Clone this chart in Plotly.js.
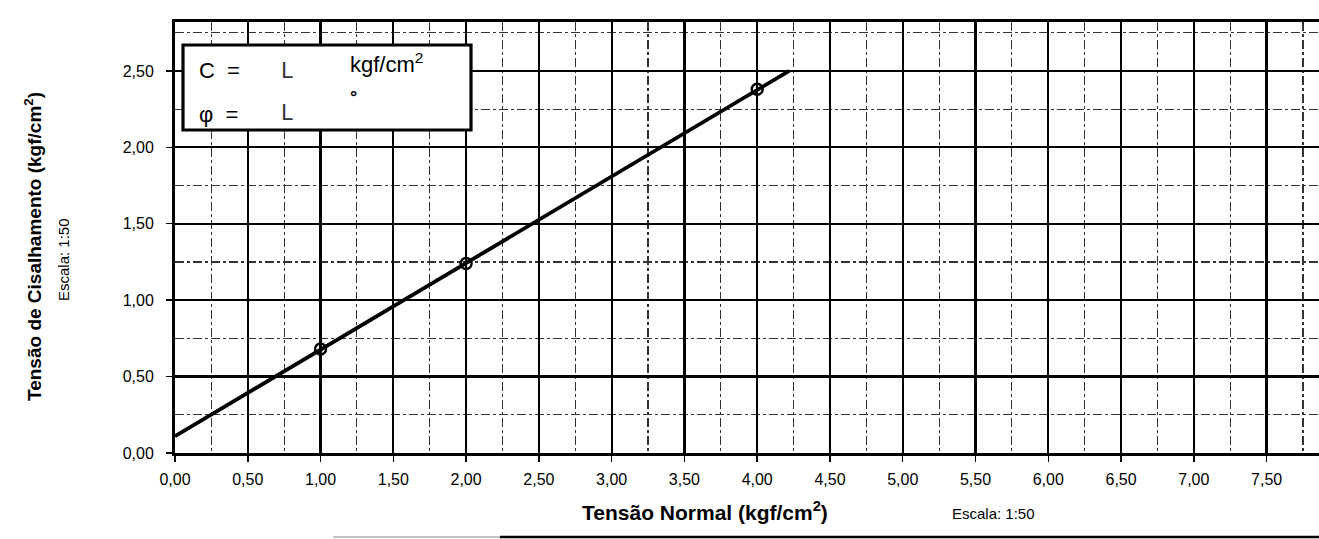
<!DOCTYPE html>
<html>
<head>
<meta charset="utf-8">
<script src="https://cdn.plot.ly/plotly-3.0.1.min.js"></script>
<style>html,body{margin:0;padding:0;background:#fff;}#chart{width:1319px;height:539px;}</style>
</head>
<body>
<div id="chart"></div>
<script>
// ---- data ----
const normalStress = [1.00, 2.00, 4.00];          // Tensão Normal (kgf/cm²)
const shearStress  = [0.68, 1.24, 2.38];          // Tensão de Cisalhamento (kgf/cm²)
const fitX = [0.00, 4.22];                        // envoltória (linha ajustada)
const fitY = [0.11, 2.50];
const xTickVals = [0,0.5,1,1.5,2,2.5,3,3.5,4,4.5,5,5.5,6,6.5,7,7.5];
const yTickVals = [0,0.5,1,1.5,2,2.5];
const xTitle = 'Tensão Normal (kgf/cm<sup>2</sup>)';
const yTitle = 'Tensão de Cisalhamento (kgf/cm<sup>2</sup>)';
const scaleLabel = 'Escala: 1:50';

const FONT = 'Liberation Sans, Arial, sans-serif';
// pixel helpers for the plot area (l=175, t=22, w=1144, h=431)
const PL = 175, PT = 22, PW = 1144, PH = 431;
const px = X => (X - PL) / PW;
const py = Y => (PT + PH - Y) / PH;

const traces = [
  {x: fitX, y: fitY, mode: 'lines', line: {color: '#000', width: 3.8}, hoverinfo: 'skip'},
  {x: normalStress, y: shearStress, mode: 'markers',
   marker: {symbol: 'circle-open', size: 11, color: '#000', line: {width: 2.4, color: '#000'}}}
];

const axisCommon = {
  showline: true, linecolor: '#000', linewidth: 3, mirror: true,
  ticks: 'outside', ticklen: 6, tickwidth: 1.5, tickcolor: '#000',
  showgrid: true, gridcolor: '#000', gridwidth: 2.2,
  zeroline: false, tickformat: '.2f',
  tickfont: {family: FONT, size: 16, color: '#000'},
  minor: {dtick: 0.25, showgrid: true, gridcolor: '#333', gridwidth: 1.1, griddash: 'dashdot', ticks: ''}
};

const layout = {
  width: 1319, height: 539,
  margin: {l: PL, r: 0, t: PT, b: 539 - PT - PH},
  paper_bgcolor: '#fff', plot_bgcolor: '#fff',
  separators: ',.',
  showlegend: false,
  font: {family: FONT, color: '#000'},
  xaxis: Object.assign({}, axisCommon, {range: [0, 7.86], tickvals: xTickVals, ticklabelstandoff: 4}),
  yaxis: Object.assign({}, axisCommon, {range: [0, 2.82], tickvals: yTickVals, ticklabelstandoff: 9}),
  shapes: [
    // C / phi box
    {type: 'rect', xref: 'paper', yref: 'paper', x0: px(183), x1: px(471), y0: py(45), y1: py(130),
     fillcolor: '#fff', line: {color: '#000', width: 3.2}, layer: 'above'},
    // underline under x title
    {type: 'line', xref: 'paper', yref: 'paper', x0: px(500), x1: 1, y0: py(537), y1: py(537),
     line: {color: '#000', width: 2.5}},
    {type: 'line', xref: 'paper', yref: 'paper', x0: px(333), x1: px(500), y0: py(537), y1: py(537),
     line: {color: '#888', width: 1}}
  ],
  annotations: [
    {xref: 'paper', yref: 'paper', x: px(197), y: py(70), xanchor: 'left', yanchor: 'middle', showarrow: false,
     text: 'C&nbsp;&nbsp;=', font: {family: FONT, size: 22}},
    {xref: 'paper', yref: 'paper', x: px(279), y: py(71), xanchor: 'left', yanchor: 'middle', showarrow: false,
     text: 'L', font: {family: 'DejaVu Sans ExtraLight, DejaVu Sans, sans-serif', size: 21, color: '#333'}},
    {xref: 'paper', yref: 'paper', x: px(348), y: py(63), xanchor: 'left', yanchor: 'middle', showarrow: false,
     text: 'kgf/cm<sup>2</sup>', font: {family: FONT, size: 22}},
    {xref: 'paper', yref: 'paper', x: px(197), y: py(114), xanchor: 'left', yanchor: 'middle', showarrow: false,
     text: 'φ&nbsp;&nbsp;=', font: {family: FONT, size: 22}},
    {xref: 'paper', yref: 'paper', x: px(279), y: py(113), xanchor: 'left', yanchor: 'middle', showarrow: false,
     text: 'L', font: {family: 'DejaVu Sans ExtraLight, DejaVu Sans, sans-serif', size: 21, color: '#333'}},
    {xref: 'paper', yref: 'paper', x: px(353), y: py(97), xanchor: 'center', yanchor: 'middle', showarrow: false,
     text: '<b>°</b>', font: {family: FONT, size: 18}},
    // x title
    {xref: 'paper', yref: 'paper', x: px(705), y: py(511), xanchor: 'center', yanchor: 'middle', showarrow: false,
     text: '<b>' + xTitle + '</b>', font: {family: FONT, size: 21}},
    {xref: 'paper', yref: 'paper', x: px(993), y: py(513), xanchor: 'center', yanchor: 'middle', showarrow: false,
     text: scaleLabel, font: {family: FONT, size: 15}},
    // y title
    {xref: 'paper', yref: 'paper', x: px(33), y: py(247), xanchor: 'center', yanchor: 'middle', showarrow: false,
     textangle: -90, text: '<b>' + yTitle + '</b>', font: {family: FONT, size: 19}},
    {xref: 'paper', yref: 'paper', x: px(63), y: py(260), xanchor: 'center', yanchor: 'middle', showarrow: false,
     textangle: -90, text: scaleLabel, font: {family: FONT, size: 15}}
  ]
};

Plotly.newPlot('chart', traces, layout, {displayModeBar: false, staticPlot: true});
</script>
</body>
</html>
